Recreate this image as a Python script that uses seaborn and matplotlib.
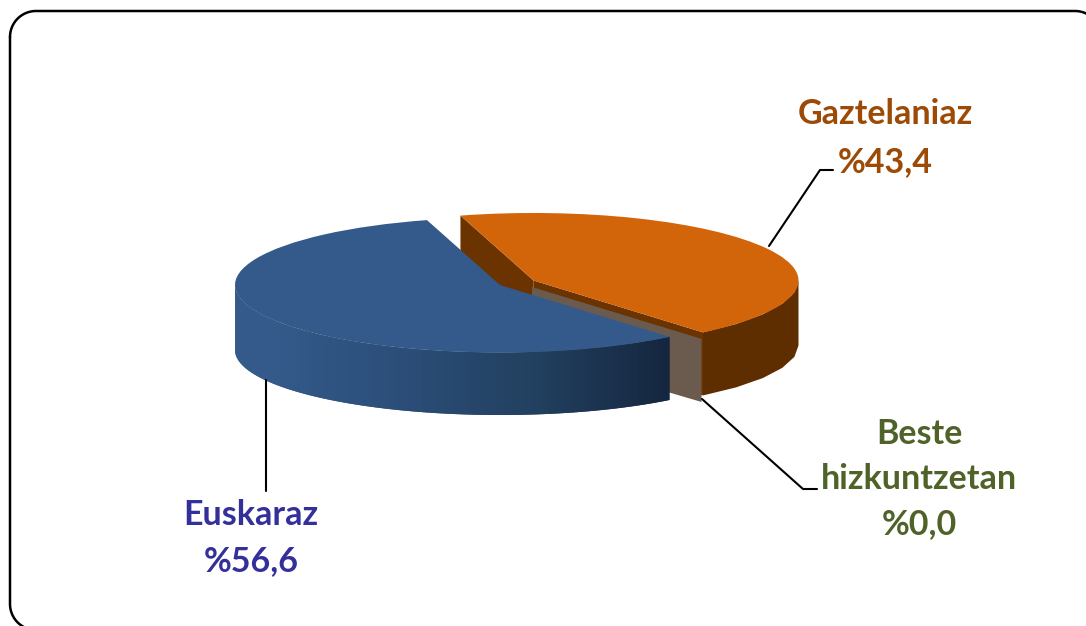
import numpy as np
import matplotlib
matplotlib.use("Agg")
import matplotlib.pyplot as plt
import seaborn as sns

# --- data ---
labels = ["Euskaraz\n%56,6", "Beste\nhizkuntzetan\n%0,0", "Gaztelaniaz\n%43,4"]
shares = [56.6, 0.0, 43.4]
explode = [0.0, 0.0, 0.143]

# --- colours ---
top_colors = ["#335a8a", "#6b5a4e", "#d2640a"]
text_colors = ["#33309a", "#4f6228", "#9c4a06"]
orange_side = "#5f2e00"
orange_cut = "#6a3300"
blue_ramp = sns.blend_palette(["#335a8a", "#335a8a", "#2c4f7b", "#22405f", "#15263f"], 80)

# --- geometry, in pixels of the 1086x626 picture ---
W, H = 1086, 626
cx, cy = 500, 285
rx, ry = 265, 67.5
depth = 65 / ry
bottom_ry = 65 / ry
grey_shift = (32 / rx, -2 / ry)

sns.set_theme(style="white")
plt.rcParams["font.family"] = ["Lato", "DejaVu Sans"]

fig = plt.figure(figsize=(W / 100, H / 100), dpi=100)
ax = fig.add_axes([0, 0, 1, 1])

wedges, _ = ax.pie(shares, explode=explode, startangle=106, colors=top_colors,
                   radius=1, wedgeprops={"linewidth": 0})
ax.set_aspect("auto")
ax.set_xlim(-cx / rx, (W - cx) / rx)
ax.set_ylim((cy - H) / ry, cy / ry)
ax.axis("off")

blue, grey, orange = wedges
blue.set_zorder(6)
orange.set_zorder(4)
grey.set_visible(False)


def rim(wedge_center, angle):
    a = np.radians(angle)
    return wedge_center[0] + np.cos(a), wedge_center[1] + np.sin(a)


def base(wedge_center, angle):
    a = np.radians(angle)
    return wedge_center[0] + np.cos(a), wedge_center[1] - depth + bottom_ry * np.sin(a)


def cut_face(wedge_center, angle, color, z):
    x0, y0 = wedge_center
    x1, y1 = rim(wedge_center, angle)
    x2, y2 = base(wedge_center, angle)
    ax.fill([x0, x1, x2, x0], [y0, y1, y2, y0 - depth], color=color, lw=0, zorder=z)


def side_wall(wedge_center, a0, a1, colors, z):
    # each strip runs on under the next one so no seams show
    steps = np.linspace(a0, a1, len(colors) + 1)
    for i, c in enumerate(colors):
        t = np.linspace(steps[i], steps[min(i + 2, len(colors))], 6)
        xt, yt = rim(wedge_center, t)
        xb, yb = base(wedge_center, t)
        ax.fill(np.r_[xt, xb[::-1]], np.r_[yt, yb[::-1]], color=c, lw=0, zorder=z)


# orange slice: the two cut faces behind, then the outer wall
oc = orange.center
cut_face(oc, orange.theta2, orange_cut, 1)
cut_face(oc, orange.theta1, orange_cut, 1)
side_wall(oc, orange.theta1, 360, [orange_side], 2)

# the empty slice only shows its cut face
gc = (grey.center[0] + grey_shift[0], grey.center[1] + grey_shift[1])
cut_face(gc, grey.theta1, top_colors[1], 3)

# blue slice: outer wall with the shading running to the right
side_wall(blue.center, 180, blue.theta2, blue_ramp, 5)

# --- overlay in picture pixels: frame, leader lines, labels ---
ov = fig.add_axes([0, 0, 1, 1], zorder=10)
ov.set_xlim(0, W)
ov.set_ylim(H, 0)
ov.axis("off")
ov.patch.set_alpha(0)

# rounded frame, its right and bottom sides run off the picture
left, top, right, bottom, r = 10, 11, 1101, 630, 26
fx, fy = [], []
for (px, py, a0) in [(left + r, top + r, 180), (right - r, top + r, 270),
                     (right - r, bottom - r, 0), (left + r, bottom - r, 90)]:
    t = np.radians(np.linspace(a0, a0 + 90, 24))
    fx.extend(px + r * np.cos(t))
    fy.extend(py + r * np.sin(t))
ov.plot(fx + fx[:1], fy + fy[:1], color="black", lw=1.8)

ov.plot([769, 820, 833], [246, 170, 170], color="black", lw=1.5)
ov.plot([266, 266], [380, 491], color="black", lw=1.5)
ov.plot([702, 803, 817], [399, 489, 489], color="black", lw=1.5)

ov.text(251, 538, labels[0], color=text_colors[0], fontsize=24.5, fontweight="bold",
        ha="center", va="center", linespacing=1.52)
ov.text(919, 479, labels[1], color=text_colors[1], fontsize=24.5, fontweight="bold",
        ha="center", va="center", linespacing=1.5)
ov.text(885, 138, labels[2], color=text_colors[2], fontsize=24.5, fontweight="bold",
        ha="center", va="center", linespacing=1.65)

fig.savefig("out.png", dpi=100)
